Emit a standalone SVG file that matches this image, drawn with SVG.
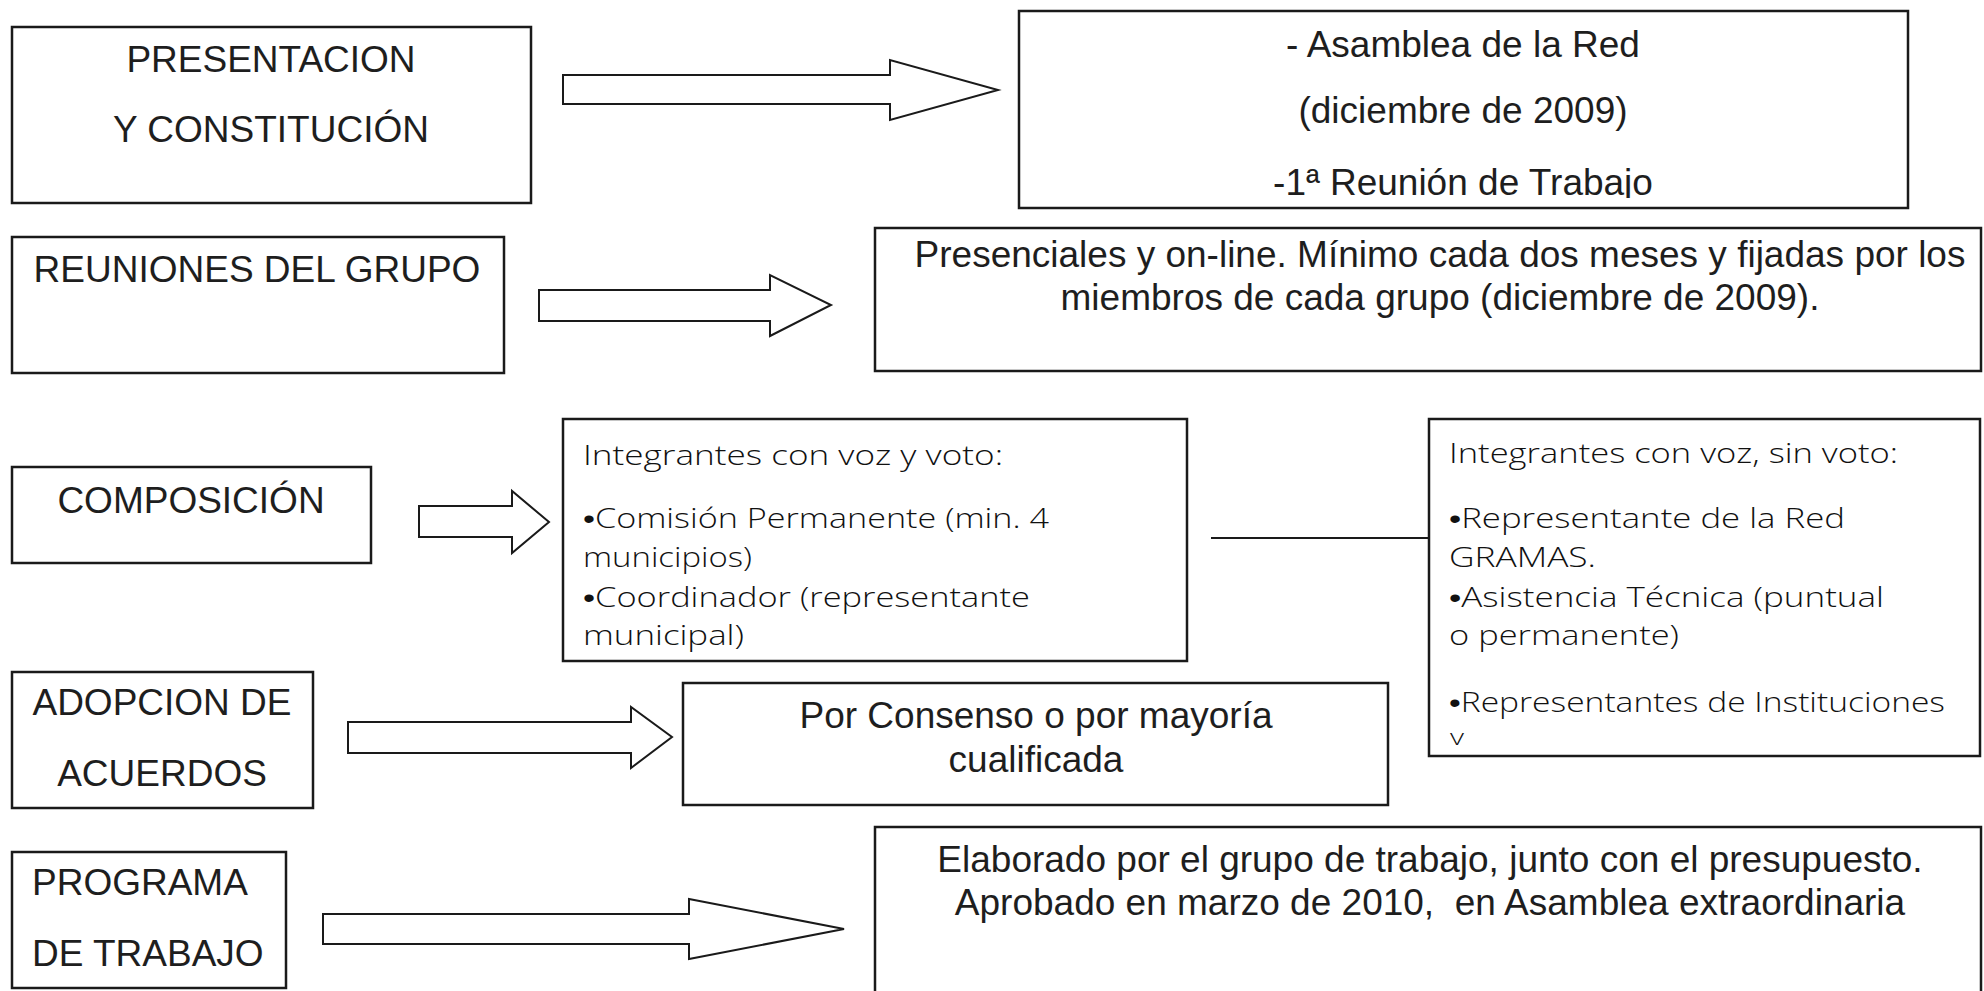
<svg xmlns="http://www.w3.org/2000/svg" width="1984" height="991" viewBox="0 0 1984 991">
<style>
.box{fill:#fff;stroke:#1a1a1a;stroke-width:2.5}
.arr{fill:#fff;stroke:#1a1a1a;stroke-width:2;stroke-linejoin:miter}
.ar{font-family:"Liberation Sans",Arial,sans-serif;font-size:37px;fill:#1e1e1e}
.c{text-anchor:middle}
.cg{font-family:"Open Sans","Noto Sans",sans-serif;font-weight:300;font-size:28px;fill:#111}
.b{font-family:"Liberation Sans",Arial,sans-serif;font-weight:400}
.ln{stroke:#1a1a1a;stroke-width:2;fill:none}
</style>
<defs>
<clipPath id="clipA"><rect x="1019" y="11" width="889" height="187"/></clipPath>
</defs>
<rect width="1984" height="991" fill="#fff"/>

<g id="connectors">
<polygon class="arr" points="563,75 890,75 890,60 998,90 890,120 890,104 563,104"/>
<polygon class="arr" points="539,290 770,290 770,275 831,305 770,336 770,321 539,321"/>
<polygon class="arr" points="419,506 512,506 512,491 549,522 512,553 512,537 419,537"/>
<polygon class="arr" points="348,722 631,722 631,707 672,737 631,768 631,753 348,753"/>
<polygon class="arr" points="323,914 689,914 689,899 844,929 689,959 689,944 323,944"/>
<line class="ln" x1="1211" y1="538" x2="1429" y2="538"/>
</g>

<g id="presentacion">
<rect class="box" x="12" y="27" width="519" height="176"/>
<text class="ar c" x="271" y="72">PRESENTACION</text>
<text class="ar c" x="271" y="142">Y CONSTITUCIÓN</text>
</g>

<g id="asamblea">
<rect class="box" x="1019" y="11" width="889" height="197"/>
<g clip-path="url(#clipA)">
<text class="ar c" x="1463" y="57">- Asamblea de la Red</text>
<text class="ar c" x="1463" y="123">(diciembre de 2009)</text>
<text class="ar c" x="1463" y="195">-1ª Reunión de Trabajo</text>
</g>
</g>

<g id="reuniones">
<rect class="box" x="12" y="237" width="492" height="136"/>
<text class="ar c" x="257" y="282">REUNIONES DEL GRUPO</text>
</g>

<g id="presenciales">
<rect class="box" x="875" y="228" width="1106" height="143"/>
<text class="ar c" x="1440" y="267">Presenciales y on-line. Mínimo cada dos meses y fijadas por los</text>
<text class="ar c" x="1440" y="310">miembros de cada grupo (diciembre de 2009).</text>
</g>

<g id="composicion">
<rect class="box" x="12" y="467" width="359" height="96"/>
<text class="ar c" x="191" y="513">COMPOSICIÓN</text>
</g>

<g id="con-voto">
<rect class="box" x="563" y="419" width="624" height="242"/>
<text class="cg" x="583" y="465" textLength="420" lengthAdjust="spacingAndGlyphs">Integrantes con voz y voto:</text>
<text class="cg" x="583" y="528" textLength="466" lengthAdjust="spacingAndGlyphs"><tspan class="b">•</tspan>Comisión Permanente (min. 4</text>
<text class="cg" x="583" y="567" textLength="169" lengthAdjust="spacingAndGlyphs">municipios)</text>
<text class="cg" x="583" y="607" textLength="447" lengthAdjust="spacingAndGlyphs"><tspan class="b">•</tspan>Coordinador (representante</text>
<text class="cg" x="583" y="645" textLength="161" lengthAdjust="spacingAndGlyphs">municipal)</text>
</g>

<g id="sin-voto">
<rect class="box" x="1429" y="419" width="551" height="337"/>
<text class="cg" x="1449" y="463" textLength="449" lengthAdjust="spacingAndGlyphs">Integrantes con voz, sin voto:</text>
<text class="cg" x="1449" y="528" textLength="396" lengthAdjust="spacingAndGlyphs"><tspan class="b">•</tspan>Representante de la Red</text>
<text class="cg" x="1449" y="567" textLength="147" lengthAdjust="spacingAndGlyphs">GRAMAS.</text>
<text class="cg" x="1449" y="607" textLength="435" lengthAdjust="spacingAndGlyphs"><tspan class="b">•</tspan>Asistencia Técnica (puntual</text>
<text class="cg" x="1449" y="645" textLength="230" lengthAdjust="spacingAndGlyphs">o permanente)</text>
<text class="cg" x="1449" y="712" textLength="496" lengthAdjust="spacingAndGlyphs"><tspan class="b">•</tspan>Representantes de Instituciones</text>
<text class="cg" x="1450" y="745" style="font-size:22px" textLength="14" lengthAdjust="spacingAndGlyphs">v</text>
</g>

<g id="adopcion">
<rect class="box" x="12" y="672" width="301" height="136"/>
<text class="ar c" x="162" y="715">ADOPCION DE</text>
<text class="ar c" x="162" y="786">ACUERDOS</text>
</g>

<g id="consenso">
<rect class="box" x="683" y="683" width="705" height="122"/>
<text class="ar c" x="1036" y="728">Por Consenso o por mayoría</text>
<text class="ar c" x="1036" y="772">cualificada</text>
</g>

<g id="programa">
<rect class="box" x="12" y="852" width="274" height="136"/>
<text class="ar" x="32" y="895">PROGRAMA</text>
<text class="ar" x="32" y="966">DE TRABAJO</text>
</g>

<g id="elaborado">
<rect class="box" x="875" y="827" width="1106" height="190"/>
<text class="ar c" x="1430" y="872">Elaborado por el grupo de trabajo, junto con el presupuesto.</text>
<text class="ar c" x="1430" y="915" xml:space="preserve">Aprobado en marzo de 2010,  en Asamblea extraordinaria</text>
</g>
</svg>
